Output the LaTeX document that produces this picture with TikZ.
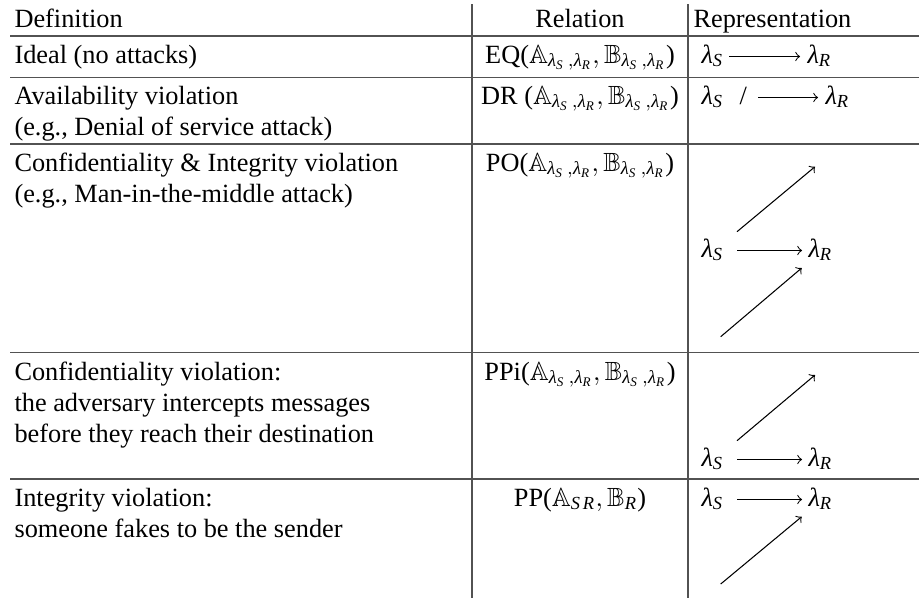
\documentclass[tikz,border=0pt]{standalone}
\usepackage{amsmath,amssymb}
\usepackage[no-math]{fontspec}
\setmainfont{Liberation Serif}
\usetikzlibrary{calc}

% italic lambda with an italic index, taken from the text font
\newcommand{\lam}[1]{\textit{λ}_{\textit{#1}}}
\newcommand{\pairAB}{\mathbb{A}_{\lam{S}\,,\lam{R}},\mathbb{B}_{\lam{S}\,,\lam{R}}}

\begin{document}
\begin{tikzpicture}[x=0.38pt,y=-0.38pt,
  every node/.style={inner sep=0pt,font=\fontsize{10}{12}\selectfont},
  lt/.style={anchor=base west},
  ct/.style={anchor=base},
  rule/.style={draw=black!68,line width=0.5pt},
  arr/.style={->,line width=0.4pt}]
\useasboundingbox[fill=white] (0,0) rectangle (919,601);

% table rules
\foreach \yy in {36,77.5,144,352.7,479}
  \draw[rule] (10,\yy) -- (919,\yy);
\draw[rule] (472,4) -- (472,598);
\draw[rule] (688,4) -- (688,598);

% header
\node[lt] (hDef) at (14,27) {Definition};
\node[ct] (hRel) at (580,27) {Relation};
\node[lt] (hRep) at (693,27) {Representation};

% definitions
\node[lt] (d1)  at (14,63)  {Ideal (no attacks)};
\node[lt] (d2a) at (14,104) {Availability violation};
\node[lt] (d2b) at (14,135) {(e.g., Denial of service attack)};
\node[lt] (d3a) at (14,171) {Confidentiality \& Integrity violation};
\node[lt] (d3b) at (14,202) {(e.g., Man-in-the-middle attack)};
\node[lt] (d4a) at (14,380) {Confidentiality violation:};
\node[lt] (d4b) at (14,411) {the adversary intercepts messages};
\node[lt] (d4c) at (14,442) {before they reach their destination};
\node[lt] (d5a) at (14,506) {Integrity violation:};
\node[lt] (d5b) at (14,537) {someone fakes to be the sender};

% relations
\node[ct] (r1) at (580,63)  {EQ($\pairAB$)};
\node[ct] (r2) at (580,104) {DR ($\pairAB$)};
\node[ct] (r3) at (580,171) {PO($\pairAB$)};
\node[ct] (r4) at (580,380) {PPi($\pairAB$)};
\node[ct] (r5) at (580,506) {PP($\mathbb{A}_{\textit{S\kern0.15em R}},\mathbb{B}_{\textit{R}}$)};

% representations: ideal
\node[lt] (eqS) at (701,63) {$\lam{S}$};
\node[lt] (eqR) at (807,63) {$\lam{R}$};
\draw[arr] ($(eqS.base west)+(28,-6.5)$) -- ($(eqR.base west)+(-7,-6.5)$);

% availability violation
\node[lt] (drS) at (701,104) {$\lam{S}$};
\node[lt] (drX) at (739,104) {/};
\node[lt] (drR) at (825,104) {$\lam{R}$};
\draw[arr] ($(drS.base west)+(57,-6.5)$) -- ($(drR.base west)+(-7,-6.5)$);

% confidentiality and integrity violation
\node[lt] (poS) at (701,257) {$\lam{S}$};
\node[lt] (poR) at (808,257) {$\lam{R}$};
\draw[arr] ($(poS.base west)+(36,-6.5)$) -- ($(poR.base west)+(-6,-6.5)$);
\coordinate (poUa) at ($(poS.base west)+(36,-25.3)$);
\coordinate (poUb) at (815,166.7);
\draw[arr] (poUa) -- (poUb);
\coordinate (poLa) at (720.7,336.7);
\coordinate (poLb) at ($(poR.base west)+(-6.3,11)$);
\draw[arr] (poLa) -- (poLb);

% confidentiality violation
\node[lt] (piS) at (701,466) {$\lam{S}$};
\node[lt] (piR) at (808,466) {$\lam{R}$};
\draw[arr] ($(piS.base west)+(36,-6.5)$) -- ($(piR.base west)+(-6,-6.5)$);
\coordinate (piUa) at ($(piS.base west)+(36,-25.3)$);
\coordinate (piUb) at (815,375);
\draw[arr] (piUa) -- (piUb);

% integrity violation
\node[lt] (ppS) at (701,506) {$\lam{S}$};
\node[lt] (ppR) at (808,506) {$\lam{R}$};
\draw[arr] ($(ppS.base west)+(36,-6.5)$) -- ($(ppR.base west)+(-6,-6.5)$);
\coordinate (ppLa) at (720.7,584);
\coordinate (ppLb) at ($(ppR.base west)+(-6.3,10.7)$);
\draw[arr] (ppLa) -- (ppLb);
\end{tikzpicture}
\end{document}
